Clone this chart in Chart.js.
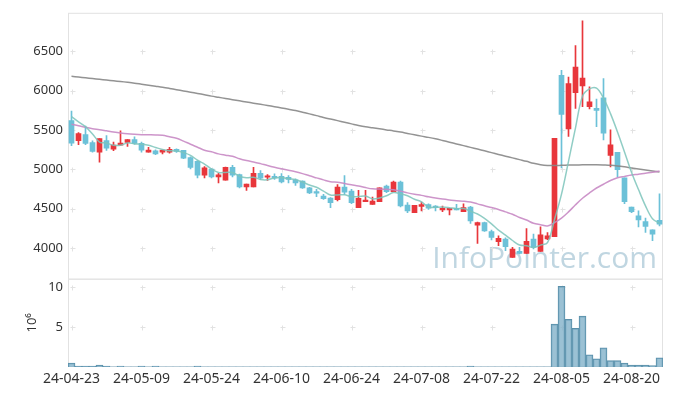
<!DOCTYPE html>
<html><head><meta charset="utf-8">
<script src="https://cdn.jsdelivr.net/npm/chart.js@4/dist/chart.umd.min.js"></script>
<style>html,body{margin:0;padding:0;background:#fff}</style>
</head><body>
<canvas id="c" width="673" height="396"></canvas>
<script>
const dates = [
'24-04-23','24-04-24','24-04-25','24-04-26','24-04-29','24-04-30',
'24-05-02','24-05-03','24-05-07','24-05-08','24-05-09','24-05-10','24-05-13','24-05-14','24-05-16','24-05-17',
'24-05-20','24-05-21','24-05-22','24-05-23','24-05-24','24-05-27','24-05-28','24-05-29','24-05-30','24-05-31',
'24-06-03','24-06-04','24-06-05','24-06-07','24-06-10','24-06-11','24-06-12','24-06-13','24-06-14','24-06-17',
'24-06-18','24-06-19','24-06-20','24-06-21','24-06-24','24-06-25','24-06-26','24-06-27','24-06-28',
'24-07-01','24-07-02','24-07-03','24-07-04','24-07-05','24-07-08','24-07-09','24-07-10','24-07-11','24-07-12',
'24-07-15','24-07-16','24-07-17','24-07-18','24-07-19','24-07-22','24-07-23','24-07-24','24-07-25','24-07-26',
'24-07-29','24-07-30','24-07-31','24-08-01','24-08-02','24-08-05','24-08-06','24-08-07','24-08-08','24-08-09',
'24-08-12','24-08-13','24-08-14','24-08-16','24-08-19','24-08-20','24-08-21','24-08-22','24-08-23','24-08-26'];
const tickLabels = ['24-04-23','24-05-09','24-05-24','24-06-10','24-06-24','24-07-08','24-07-22','24-08-05','24-08-20'];
const priceTicks = [4000,4500,5000,5500,6000,6500];
const volumeTicks = [5,10];

const open = [5620,5364,5443,5342,5220,5367,5258,5308,5342,5380,5330,5220,5237,5220,5220,5254,5241,5150,5102,4926,
5005,4904,4862,5026,4934,4778,4778,4951,4900,4913,4913,4900,4866,4850,4765,4711,4660,4635,4614,4774,
4723,4513,4588,4555,4588,4787,4715,4837,4547,4450,4530,4551,4534,4484,4484,4505,4462,4521,4290,4323,
4210,4080,4114,3881,3957,3932,4114,3957,4114,4143,6197,5515,5977,6062,5797,5775,5910,5178,5216,4891,
4521,4408,4336,4231,4353];
const high = [5742,5468,5550,5364,5393,5430,5346,5490,5380,5414,5346,5279,5250,5245,5279,5262,5241,5161,5110,5035,
5010,4951,5030,5052,4940,4812,5026,4985,4934,4942,4947,4922,4879,4855,4770,4745,4682,4640,4808,4922,
4745,4732,4732,4648,4765,4799,4850,4850,4576,4543,4585,4563,4540,4534,4500,4555,4563,4530,4330,4330,
4227,4155,4130,4008,4008,4248,4177,4269,4197,5396,6260,6175,6576,6891,6049,5894,6154,5503,5216,4891,
4521,4471,4379,4231,4690];
const low = [5300,5313,5313,5220,5093,5241,5237,5308,5292,5321,5220,5220,5187,5195,5207,5216,5136,5005,4891,4891,
4891,4828,4862,4904,4765,4732,4778,4871,4858,4871,4828,4828,4795,4757,4690,4652,4619,4513,4597,4682,
4563,4513,4588,4555,4588,4702,4715,4521,4450,4450,4471,4492,4471,4462,4420,4484,4462,4311,4058,4210,
4101,4029,3966,3881,3924,3932,3987,3957,4105,4143,5018,5418,5775,5797,5768,5544,5376,5030,4904,4563,
4450,4269,4197,4092,4282];
const close = [5333,5456,5330,5228,5393,5270,5308,5333,5380,5330,5245,5245,5195,5245,5254,5228,5144,5026,4926,5018,
4904,4929,5026,4926,4778,4812,4951,4888,4913,4891,4841,4871,4828,4765,4700,4698,4626,4576,4774,4711,
4576,4631,4610,4597,4765,4715,4837,4534,4471,4543,4551,4505,4513,4500,4496,4484,4513,4345,4323,4218,
4134,4122,4016,3987,3932,4084,4008,4168,4155,5396,5699,6091,6302,6163,5860,5750,5460,5313,4997,4588,
4462,4357,4273,4177,4303];
const ma5 = [5670,5605,5543,5450,5348,5335,5306,5306,5337,5324,5319,5307,5279,5252,5237,5233,5213,5179,5116,5068,
5004,4961,4961,4961,4913,4894,4899,4871,4868,4891,4897,4881,4869,4839,4801,4772,4723,4673,4675,4677,
4653,4654,4660,4625,4636,4664,4705,4690,4664,4620,4587,4521,4517,4522,4513,4500,4501,4468,4432,4377,
4307,4228,4163,4095,4038,4028,4005,4036,4069,4362,4685,5102,5529,5930,6023,6033,5907,5709,5476,5222,
4964,4743,4535,4371,4314];
const ma20 = [5573,5555,5535,5518,5505,5490,5475,5462,5452,5446,5442,5440,5438,5434,5415,5396,5360,5320,5282,5244,
5223,5197,5181,5166,5136,5113,5095,5073,5049,5027,5007,4988,4970,4946,4918,4892,4866,4843,4836,4820,
4804,4789,4768,4752,4751,4746,4741,4723,4701,4683,4669,4651,4635,4622,4611,4601,4595,4584,4561,4536,
4514,4489,4459,4429,4387,4355,4314,4296,4280,4323,4380,4459,4549,4632,4700,4763,4811,4859,4893,4911,
4928,4939,4952,4962,4980];
const ma120 = [6184,6175,6165,6156,6146,6137,6127,6118,6108,6097,6084,6071,6058,6045,6030,6014,5998,5982,5966,5949,
5932,5917,5902,5887,5872,5857,5842,5828,5813,5797,5781,5765,5749,5728,5706,5684,5661,5640,5620,5599,
5579,5559,5542,5529,5516,5502,5489,5474,5457,5440,5423,5407,5389,5368,5346,5324,5302,5280,5258,5236,
5213,5190,5168,5146,5124,5102,5078,5060,5050,5048,5051,5054,5056,5058,5060,5059,5056,5052,5044,5032,
5018,5005,4992,4979,4967];
// volume in millions of shares
const volume = [0.5,0.1,0.1,0.1,0.25,0.1,0.02,0.12,0.02,0.02,0.12,0.02,0.12,0.02,0.02,0.02,0.02,0.02,0.12,0.02,
0.02,0.02,0.02,0.02,0.02,0.02,0.02,0.02,0.02,0.02,0.02,0.02,0.02,0.02,0.02,0.02,0.02,0.02,0.02,0.02,
0.02,0.02,0.02,0.02,0.02,0.02,0.02,0.02,0.02,0.02,0.02,0.02,0.02,0.02,0.02,0.02,0.02,0.12,0.02,0.02,
0.02,0.02,0.02,0.02,0.02,0.02,0.02,0.02,0.02,5.37,10.08,5.95,4.83,6.36,1.53,1.03,2.40,0.79,0.79,0.5,
0.25,0.25,0.25,0.17,1.16];

const UP = '#e8363b', DOWN = '#6cc1d8';
const candleColors = dates.map((d,i) => close[i] >= open[i] ? UP : DOWN);
const FONT = {family: '"Noto Sans", sans-serif', size: 13};
const XFONT = {family: '"Noto Sans", sans-serif', size: 14};
const TXT = '#333333';

const decor = {
  id: 'decor',
  beforeDatasetsDraw(chart) {
    const {ctx, chartArea: a, scales: {x, y, yv}} = chart;
    ctx.save();
    // watermark
    ctx.font = '30px "Open Sans", sans-serif';
    ctx.fillStyle = 'rgba(168,198,214,0.72)';
    ctx.textAlign = 'right';
    ctx.textBaseline = 'alphabetic';
    ctx.fillText('InfoPointer.com', a.right - 6, y.bottom - 11);
    // grid crosses
    ctx.strokeStyle = '#e2e2e2';
    ctx.lineWidth = 1;
    const cross = (px, py) => {
      px = Math.round(px) + 0.5; py = Math.round(py) + 0.5;
      ctx.beginPath();
      ctx.moveTo(px - 2, py); ctx.lineTo(px + 3, py);
      ctx.moveTo(px, py - 2); ctx.lineTo(px, py + 3);
      ctx.stroke();
    };
    tickLabels.forEach(l => {
      const px = x.getPixelForValue(dates.indexOf(l));
      priceTicks.forEach(v => cross(px, y.getPixelForValue(v)));
      volumeTicks.forEach(v => cross(px, yv.getPixelForValue(v)));
    });
    // panel borders
    ctx.strokeStyle = '#e2e2e2';
    ctx.strokeRect(a.left + 0.5, y.top + 0.5, a.right - a.left - 1, y.bottom - y.top);
    ctx.strokeRect(a.left + 0.5, yv.top + 0.5, a.right - a.left - 1, yv.bottom - yv.top - 1);
    ctx.restore();
  }
};

new Chart(document.getElementById('c'), {
  type: 'bar',
  data: {
    labels: dates,
    datasets: [
      {type: 'line', label: 'MA5', data: ma5, borderColor: 'rgba(125,196,187,0.85)', borderWidth: 1.5, pointRadius: 0, tension: 0.35, yAxisID: 'y', order: 1},
      {type: 'line', label: 'MA20', data: ma20, borderColor: 'rgba(200,138,196,0.9)', borderWidth: 1.5, pointRadius: 0, tension: 0.35, yAxisID: 'y', order: 1},
      {type: 'line', label: 'MA120', data: ma120, borderColor: 'rgba(135,135,135,0.9)', borderWidth: 1.5, pointRadius: 0, tension: 0.35, yAxisID: 'y', order: 1},
      {label: 'wick', data: dates.map((d,i) => [low[i], high[i]]), backgroundColor: candleColors, barThickness: 1, grouped: false, yAxisID: 'y', order: 3},
      {label: 'body', data: dates.map((d,i) => [open[i], close[i]]), backgroundColor: candleColors, barThickness: 5, minBarLength: 1.5, grouped: false, yAxisID: 'y', order: 2},
      {label: 'volume', data: volume, backgroundColor: 'rgba(130,178,201,0.8)', borderColor: '#5b90aa',
       borderWidth: c => volume[c.dataIndex] > 0.08 ? 1 : 0, barPercentage: 1, categoryPercentage: 1, grouped: false, yAxisID: 'yv', order: 2}
    ]
  },
  options: {
    responsive: false,
    animation: false,
    devicePixelRatio: 1,
    layout: {padding: {top: 10, right: 10, left: 0, bottom: 0}},
    plugins: {legend: {display: false}, tooltip: {enabled: false}},
    scales: {
      x: {
        type: 'category', offset: true,
        grid: {display: false, drawTicks: false}, border: {display: false},
        ticks: {autoSkip: false, maxRotation: 0, padding: 4, font: XFONT, color: TXT,
          callback: (v, i) => tickLabels.includes(dates[i]) ? dates[i] : null},
        afterFit: s => { s.height = 29; }
      },
      y: {
        type: 'linear', position: 'left', stack: 'panes', stackWeight: 268, weight: 2,
        min: 3609, max: 6992,
        afterBuildTicks: s => { s.ticks = priceTicks.map(v => ({value: v})); },
        grid: {display: false, drawTicks: false}, border: {display: false},
        ticks: {padding: 5, font: FONT, color: TXT, callback: v => String(v)},
        afterFit: s => { s.width = 68; }
      },
      yv: {
        type: 'linear', position: 'left', stack: 'panes', stackWeight: 89, weight: 1,
        min: 0, max: 11.04,
        afterBuildTicks: s => { s.ticks = volumeTicks.map(v => ({value: v})); },
        grid: {display: false, drawTicks: false}, border: {display: false},
        ticks: {padding: 5, font: FONT, color: TXT, callback: v => String(v)},
        title: {display: true, text: '10⁶', font: FONT, color: TXT, padding: {top: 24, bottom: 0}},
        afterFit: s => { s.width = 68; }
      }
    }
  },
  plugins: [decor]
});
</script>
</body></html>
